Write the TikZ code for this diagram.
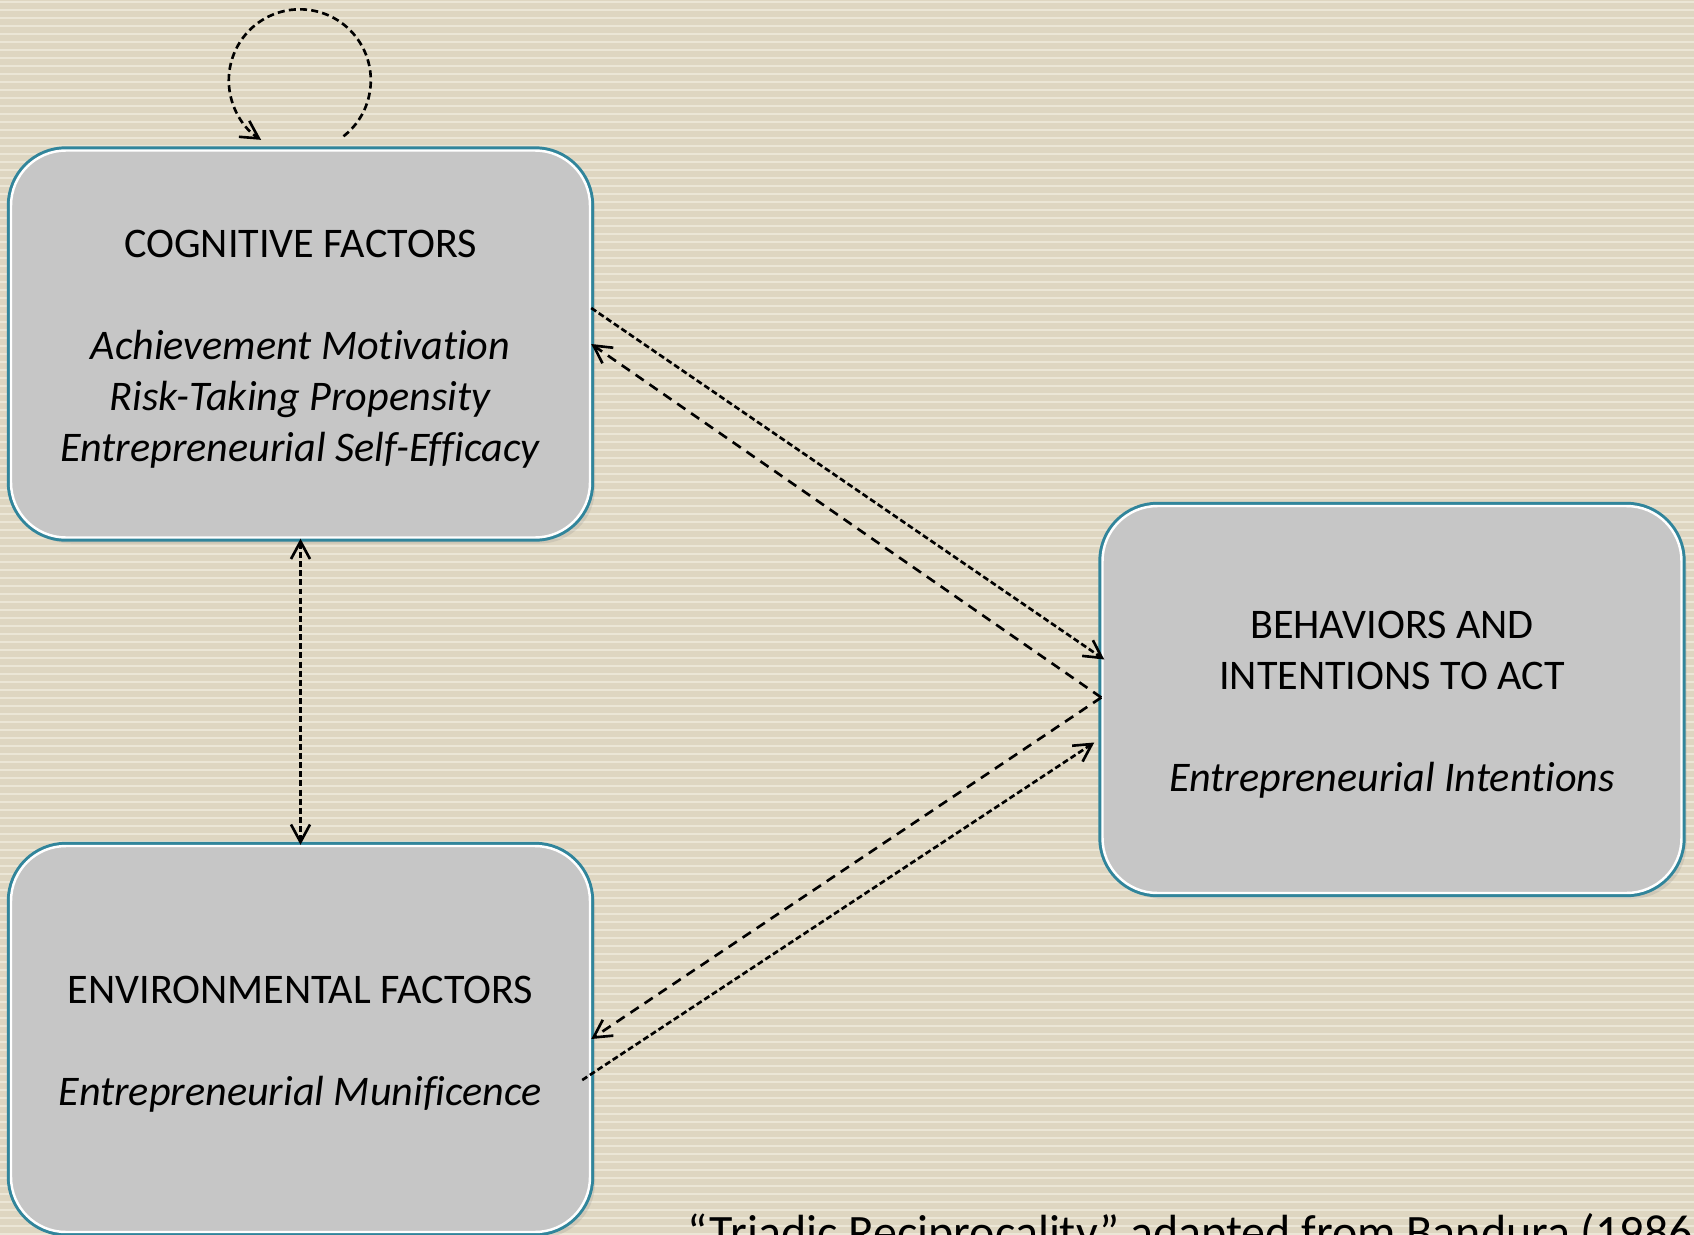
\documentclass[tikz,border=0pt]{standalone}
\usepackage{fontspec}
\setmainfont[Ligatures=NoCommon]{Carlito}
\usepackage{tikz}
\usetikzlibrary{arrows.meta,shadows}
\definecolor{bgbeige}{RGB}{222,214,193}
\definecolor{bgstripe}{RGB}{235,230,214}
\definecolor{boxgray}{RGB}{198,198,198}
\definecolor{boxteal}{RGB}{49,133,155}

\begin{document}
\begin{tikzpicture}[
        factor/.style={rectangle, rounded corners=5.5mm,
            minimum width=5.79cm, minimum height=3.87cm,
            drop shadow={shadow xshift=0.5mm, shadow yshift=-0.6mm, opacity=0.18},
            preaction={draw=boxteal, line width=2.4pt},
            fill=boxgray, draw=white, line width=0.7pt},
        factortext/.style={align=center, font=\fontsize{12pt}{14.5pt}\selectfont},
        link/.style={line width=0.75pt, -{Straight Barb[length=1.75mm, width=1.9mm]}},
        shortdash/.style={dash pattern=on 1.7pt off 0.9pt},
        longdash/.style={dash pattern=on 2.8pt off 2pt},
        loopdash/.style={dash pattern=on 2pt off 1.2pt},
    ]
        % Background
        \clip (0,0) rectangle (16.94,12.34);
        \fill[bgbeige] (0,0) rectangle (16.94,12.34);
        \foreach \i in {0,...,154}
            \draw[bgstripe, line width=0.5pt] (0,\i*0.08) -- (16.94,\i*0.08);

        % Add boxes
        \node[factor] (cog) at (3.005,8.90) {};
        \node[factor] (beh) at (13.92,5.345) {};
        \node[factor, minimum height=3.86cm] (env) at (3.005,1.95) {};

        % Add box texts
        \node[factortext] (cogtext) at ([yshift=-0.55mm]cog.center) {COGNITIVE FACTORS\\[14.5pt]
            \textit{Achievement Motivation}\\
            \textit{Risk-Taking Propensity}\\
            \textit{Entrepreneurial Self-Efficacy}};
        \node[factortext] (behtext) at ([yshift=-0.5mm]beh.center) {BEHAVIORS AND\\
            INTENTIONS TO ACT\\[14.5pt]
            \textit{Entrepreneurial Intentions}};
        \node[factortext] (envtext) at ([yshift=-0.55mm]env.center) {ENVIRONMENTAL FACTORS\\[14.5pt]
            \textit{Entrepreneurial Munificence}};

        % Add arrows
        \draw[link, loopdash] ([shift={(0.43,0.13)}]cog.north) arc[start angle=-52, end angle=237, radius=0.71];
        \draw[link, shortdash, {Straight Barb[length=1.75mm, width=1.9mm]}-{Straight Barb[length=1.75mm, width=1.9mm]}] (cog.south) -- (env.north);
        \draw[link, shortdash] ([yshift=3.6mm]cog.east) -- ([xshift=0.3mm, yshift=4mm]beh.west);
        \draw[link, longdash] ([yshift=0.2mm]beh.west) -- (cog.east);
        \draw[link, longdash] ([yshift=0.2mm]beh.west) -- (env.east);
        \draw[link, shortdash] ([xshift=-0.9mm, yshift=-4.1mm]env.east) -- ([xshift=-0.7mm, yshift=-4.3mm]beh.west);

        % Add source
        \node[anchor=base west, inner sep=0pt, font=\fontsize{13.65pt}{17pt}\selectfont] (src) at (6.87,-0.14) {“Triadic Reciprocality” adapted from Bandura (1986)};
    \end{tikzpicture}
\end{document}
